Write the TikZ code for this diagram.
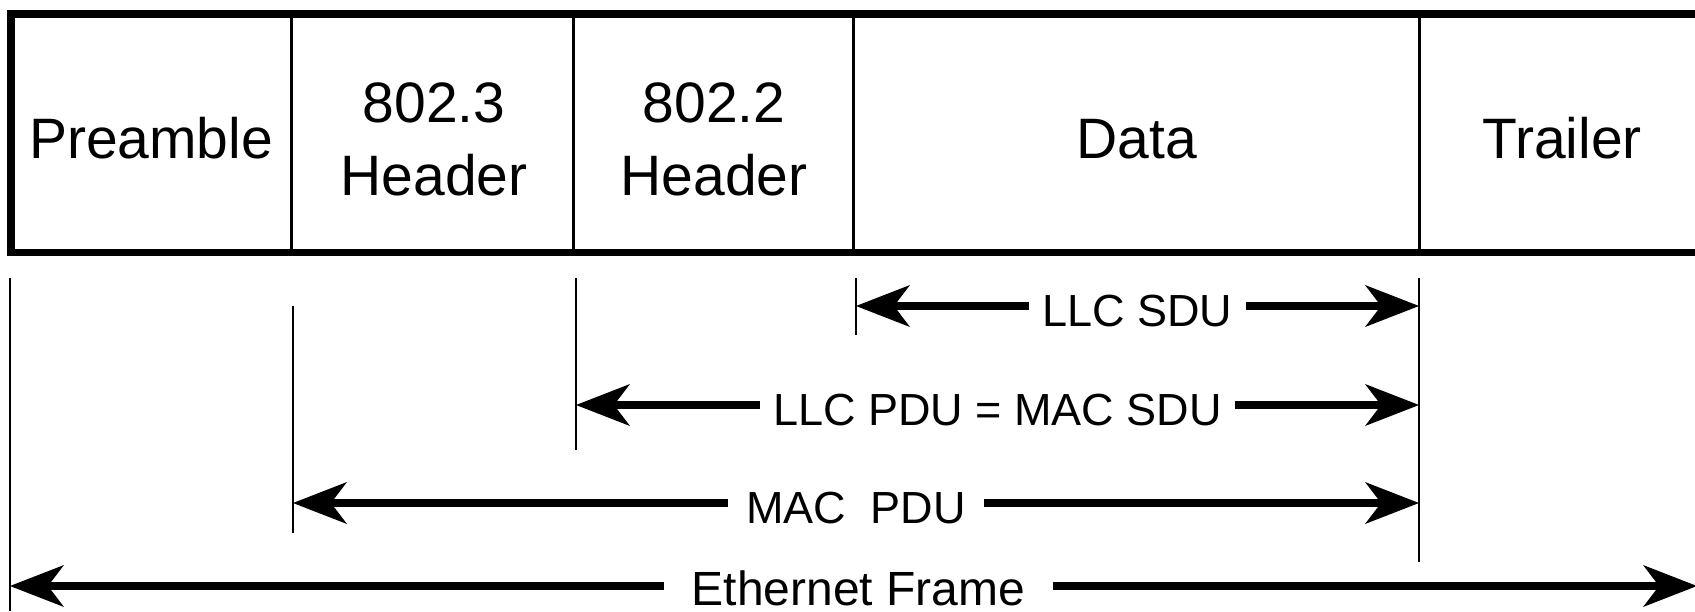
\documentclass[tikz,border=0pt]{standalone}
\usepackage{fontspec}
\setmainfont{Liberation Sans}
\usetikzlibrary{arrows.meta,calc}
\begin{document}
\begin{tikzpicture}[x=0.5pt,y=-0.5pt,
  frameline/.style={line width=3.6pt,line join=miter},
  divider/.style={line width=1.5pt},
  guide/.style={line width=0.7pt},
  span/.style={line width=3.6pt,
    -{Stealth[length=27pt,width=21pt,inset=8pt,line width=0pt]}},
  celltext/.style={anchor=base,inner sep=0pt,align=center,
    font=\fontsize{28.5}{36.5}\selectfont},
  spanlabel/.style={inner ysep=0pt,text height=20pt,text depth=0pt,
    font=\fontsize{22.5}{27}\selectfont},
]
\useasboundingbox (0,0) rectangle (1695,611);

% frame of the packet (open on the right)
\draw[frameline] (1710,14) -- (11,14) -- (11,252.5) -- (1710,252.5);
\foreach \x in {291,573,853,1419}
  \draw[divider] (\x,14) -- (\x,252.5);

% field names (two-line nodes are anchored on their last baseline)
\node[celltext] (pre)  at (151,158)  {Preamble};
\node[celltext] (hdr3) at (434,195)  {802.3\\Header};
\node[celltext] (hdr2) at (714,195)  {802.2\\Header};
\node[celltext] (data) at (1137,158) {Data};
\node[celltext] (trl)  at (1562,158) {Trailer};

% extension lines marking the field boundaries
\coordinate (g0t) at (10,278);   \coordinate (g0b) at (10,611);
\coordinate (g1t) at (293,306);  \coordinate (g1b) at (293,533);
\coordinate (g2t) at (576,278);  \coordinate (g2b) at (576,450);
\coordinate (g3t) at (856,278);  \coordinate (g3b) at (856,335);
\coordinate (g4t) at (1419,278); \coordinate (g4b) at (1419,562);
\foreach \g in {g0,g1,g2,g3,g4}
  \draw[guide] (\g t) -- (\g b);

% span end points
\coordinate (sduL) at (856,306);  \coordinate (sduR) at (1419,306);
\coordinate (pduL) at (576,405);  \coordinate (pduR) at (1419,405);
\coordinate (macL) at (293,503);  \coordinate (macR) at (1419,503);
\coordinate (ethL) at (10,586);   \coordinate (ethR) at (1697,586);

% spans with their labels
\node[spanlabel,inner xsep=6.5pt] (sdu) at ($(sduL)!0.5!(sduR)$) {LLC SDU};
\draw[span] (sdu.west) -- (sduL);
\draw[span] (sdu.east) -- (sduR);

\node[spanlabel,inner xsep=6.5pt] (pdu) at ($(pduL)!0.5!(pduR)$) {LLC PDU = MAC SDU};
\draw[span] (pdu.west) -- (pduL);
\draw[span] (pdu.east) -- (pduR);

\node[spanlabel,inner xsep=9pt] (mac) at ($(macL)!0.5!(macR)$) {MAC\ \ PDU};
\draw[span] (mac.west) -- (macL);
\draw[span] (mac.east) -- (macR);

\node[spanlabel,inner xsep=13.5pt,text height=19pt,
  font=\fontsize{24}{28}\selectfont,xshift=2.5pt]
  (eth) at ($(ethL)!0.5!(ethR)$) {Ethernet Frame};
\draw[span] (eth.west) -- (ethL);
\draw[span] (eth.east) -- (ethR);
\end{tikzpicture}
\end{document}
